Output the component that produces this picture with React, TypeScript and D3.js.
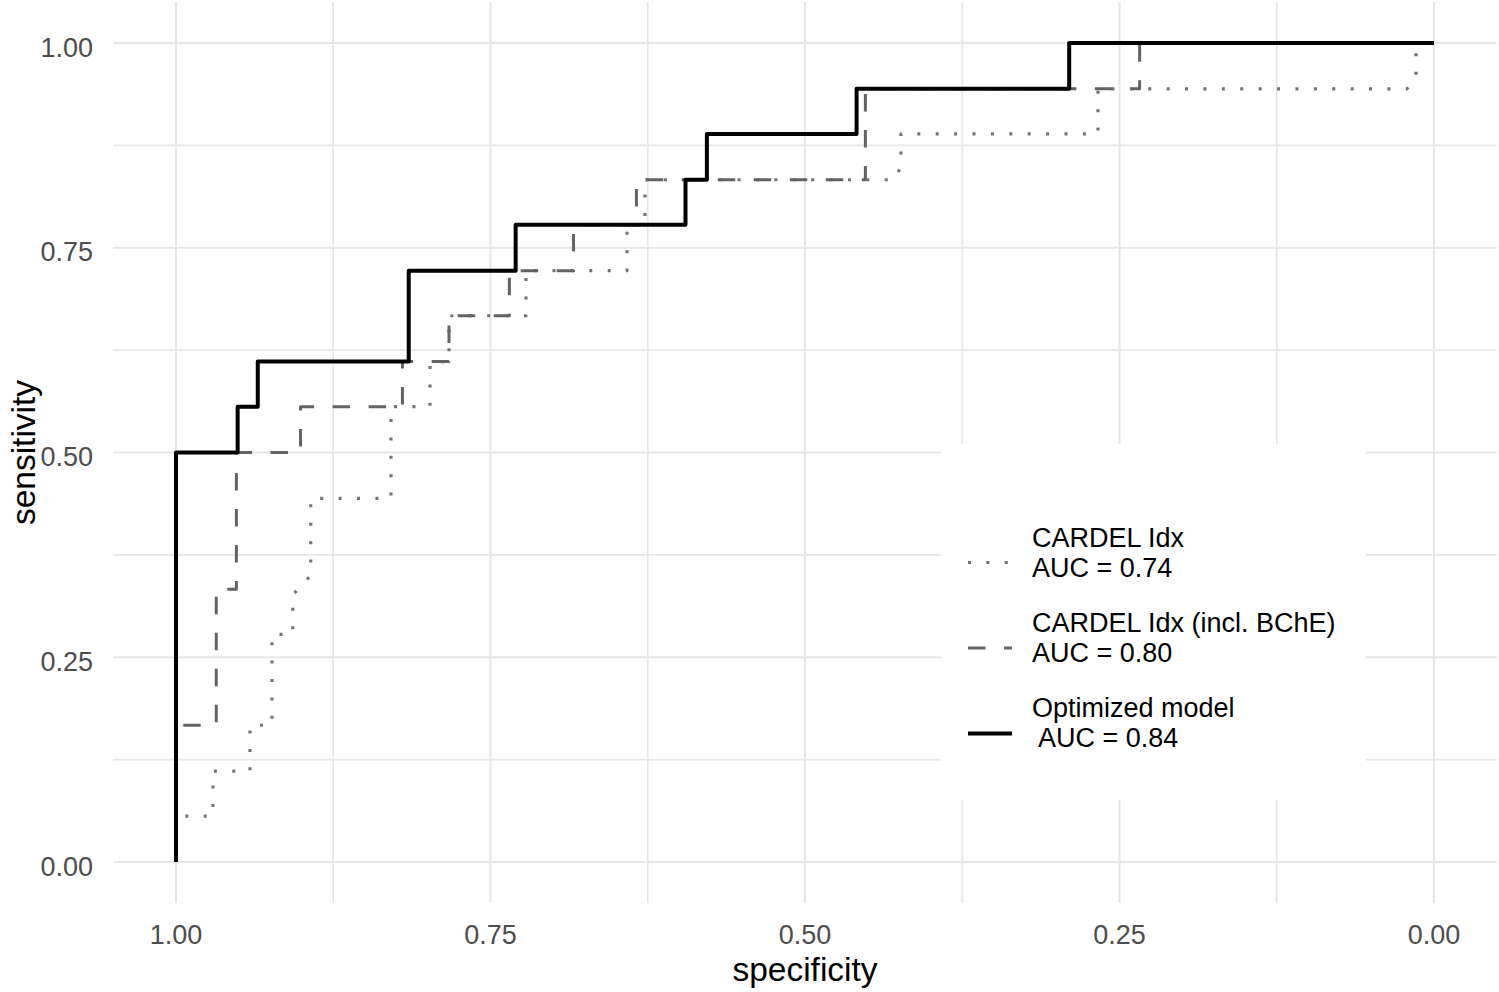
import React from 'react';
import * as d3 from 'd3';

// ROC corner points (specificity, sensitivity)
const cardelSpec = [1, 1, 0.9706, 0.9706, 0.9412, 0.9412, 0.9237, 0.9237, 0.9072, 0.9072, 0.8929, 0.8929, 0.8291, 0.8291, 0.7981, 0.7981, 0.783, 0.783, 0.7218, 0.7218, 0.6415, 0.6415, 0.6272, 0.6272, 0.4285, 0.4237, 0.4237, 0.2671, 0.2671, 0.0215, 0.0143, 0.0143, 0];
const cardelSens = [0, 0.056, 0.056, 0.111, 0.111, 0.167, 0.167, 0.278, 0.278, 0.326, 0.35, 0.444, 0.444, 0.556, 0.556, 0.611, 0.611, 0.667, 0.667, 0.722, 0.722, 0.778, 0.778, 0.833, 0.833, 0.85, 0.889, 0.889, 0.944, 0.944, 0.958, 1, 1];

const bcheSpec = [1, 1, 0.968, 0.968, 0.952, 0.952, 0.901, 0.901, 0.82, 0.82, 0.783, 0.783, 0.735, 0.735, 0.684, 0.684, 0.634, 0.634, 0.452, 0.452, 0.234, 0.234, 0];
const bcheSens = [0, 0.167, 0.167, 0.333, 0.333, 0.5, 0.5, 0.556, 0.556, 0.611, 0.611, 0.667, 0.667, 0.722, 0.722, 0.778, 0.778, 0.833, 0.833, 0.944, 0.944, 1, 1];

const optSpec = [1, 1, 0.951, 0.951, 0.935, 0.935, 0.815, 0.815, 0.73, 0.73, 0.595, 0.595, 0.578, 0.578, 0.459, 0.459, 0.29, 0.29, 0];
const optSens = [0, 0.5, 0.5, 0.556, 0.556, 0.611, 0.611, 0.722, 0.722, 0.778, 0.778, 0.833, 0.833, 0.889, 0.889, 0.944, 0.944, 1, 1];

const seriesLabels = [
  ['CARDEL Idx', 'AUC = 0.74'],
  ['CARDEL Idx (incl. BChE)', 'AUC = 0.80'],
  ['Optimized model', ' AUC = 0.84'],
];

const xTicks = [1, 0.75, 0.5, 0.25, 0];
const yTicks = [0, 0.25, 0.5, 0.75, 1];
const minorBreaks = [0.125, 0.375, 0.625, 0.875];

const W = 1499;
const H = 992;
const font = '"Liberation Sans", Arial, sans-serif';

const styles = [
  { color: '#737373', width: 3.2, dash: '3 15.4' },
  { color: '#636363', width: 3, dash: '17.5 18.5' },
  { color: '#000000', width: 4, dash: undefined as string | undefined },
];

export default function App() {
  const x = d3.scaleLinear().domain([1, 0]).range([176, 1434]);
  const y = d3.scaleLinear().domain([0, 1]).range([862, 43]);
  const x0 = x(1.05), x1 = x(-0.05);
  const y0 = y(-0.05), y1 = y(1.05);
  const fmt = d3.format('.2f');

  const line = d3.line<[number, number]>().x(d => x(d[0])).y(d => y(d[1]));
  const curves = [
    d3.zip(cardelSpec, cardelSens) as [number, number][],
    d3.zip(bcheSpec, bcheSens) as [number, number][],
    d3.zip(optSpec, optSens) as [number, number][],
  ];

  const legendKeyY = [562.5, 648, 733.5];
  const legendTextY = [547, 632, 717];

  return (
    <div style={{ position: 'absolute', left: 0, top: 0 }}>
      <svg width={W} height={H} style={{ display: 'block', background: '#fff' }}>
        {/* grid */}
        <g stroke="#e6e6e6" fill="none">
          {minorBreaks.map(v => (
            <line key={'mx' + v} x1={x(v)} x2={x(v)} y1={y0} y2={y1} strokeWidth={1.6} />
          ))}
          {minorBreaks.map(v => (
            <line key={'my' + v} x1={x0} x2={x1} y1={y(v)} y2={y(v)} strokeWidth={1.6} />
          ))}
          {xTicks.map(v => (
            <line key={'gx' + v} x1={x(v)} x2={x(v)} y1={y0} y2={y1} strokeWidth={2} />
          ))}
          {yTicks.map(v => (
            <line key={'gy' + v} x1={x0} x2={x1} y1={y(v)} y2={y(v)} strokeWidth={2} />
          ))}
        </g>

        {/* curves */}
        {curves.map((c, i) => (
          <path
            key={i}
            d={line(c) || ''}
            fill="none"
            stroke={styles[i].color}
            strokeWidth={styles[i].width}
            strokeDasharray={styles[i].dash}
            strokeLinejoin="round"
          />
        ))}

        {/* tick labels */}
        <g fontFamily={font} fontSize={27} fill="#4d4d4d">
          {yTicks.map(v => (
            <text key={'ty' + v} x={93} y={y(v) + 13.5} textAnchor="end">{fmt(v)}</text>
          ))}
          {xTicks.map(v => (
            <text key={'tx' + v} x={x(v)} y={943.5} textAnchor="middle">{fmt(v)}</text>
          ))}
        </g>

        {/* axis titles */}
        <text x={x(0.5)} y={981} textAnchor="middle" fontFamily={font} fontSize={33.5} fill="#000">specificity</text>
        <text transform={`translate(34.5,${(y0 + y1) / 2}) rotate(-90)`} textAnchor="middle" fontFamily={font} fontSize={33.5} fill="#000">sensitivity</text>

        {/* legend */}
        <rect x={941} y={444} width={425} height={356} fill="#fff" />
        {seriesLabels.map((lab, i) => (
          <g key={'lg' + i}>
            <line
              x1={968}
              x2={1012}
              y1={legendKeyY[i]}
              y2={legendKeyY[i]}
              stroke={styles[i].color}
              strokeWidth={styles[i].width}
              strokeDasharray={styles[i].dash}
            />
            <text x={1032} y={legendTextY[i]} fontFamily={font} fontSize={27} fill="#000" style={{ whiteSpace: 'pre' }}>
              <tspan x={1032}>{lab[0]}</tspan>
              <tspan x={1032} dy={29.5}>{lab[1]}</tspan>
            </text>
          </g>
        ))}
      </svg>
    </div>
  );
}
